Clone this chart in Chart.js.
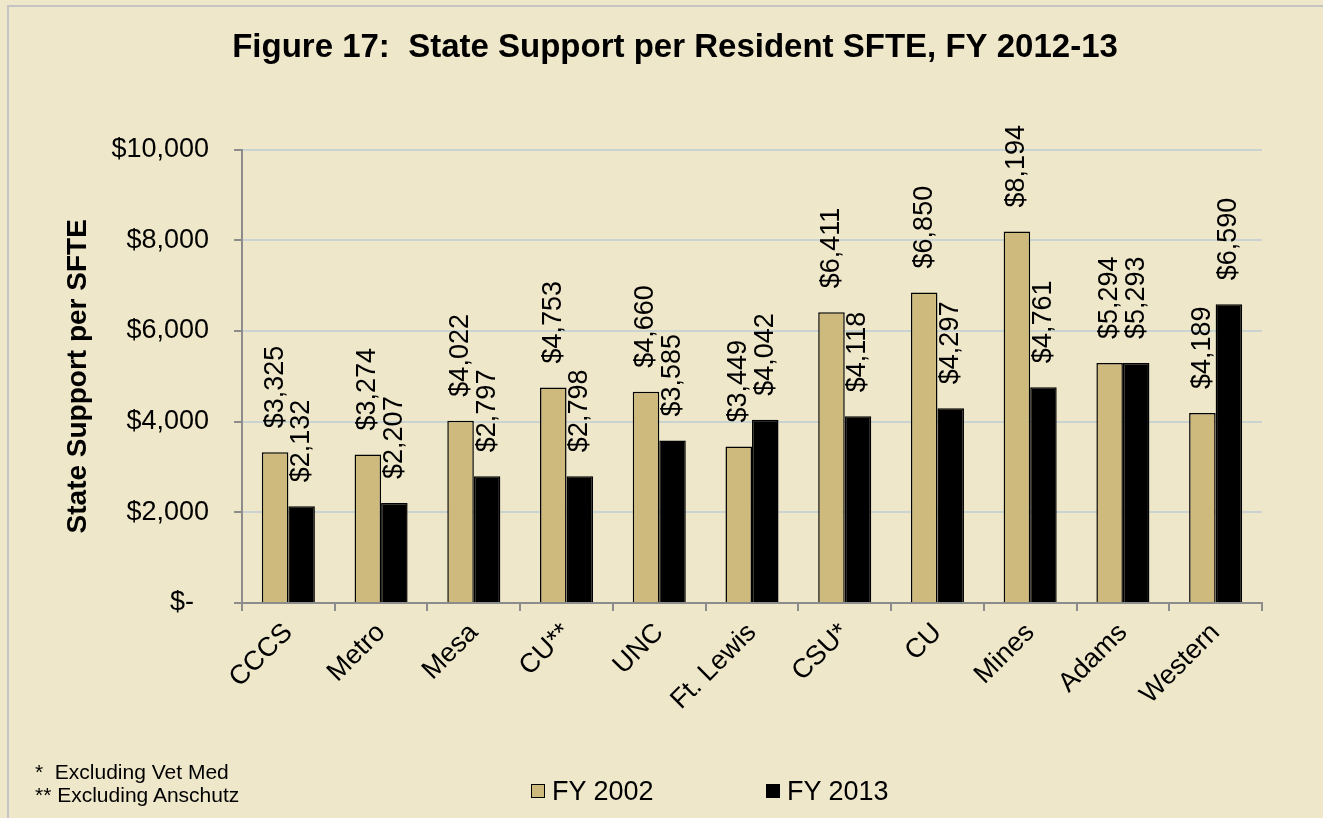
<!DOCTYPE html>
<html>
<head>
<meta charset="utf-8">
<script src="https://cdn.jsdelivr.net/npm/chart.js@4.4.1/dist/chart.umd.min.js"></script>
<style>
  html, body { margin: 0; padding: 0; background: #eee7c9; overflow: hidden; }
  #frame { position: absolute; left: 7px; top: 5px; width: 1340px; height: 840px;
           border: 2px solid #c4c4c4; box-sizing: border-box; }
  #wrap { position: absolute; left: 0; top: 0; width: 1323px; height: 818px; }
  .note { position: absolute; font-family: 'Liberation Sans', Arial, sans-serif; font-size: 21px; color: #000; white-space: pre; }
  .leg { position: absolute; font-family: 'Liberation Sans', Arial, sans-serif; font-size: 27px; color: #000; white-space: pre; line-height: 30px; }
  .box { position: absolute; width: 12px; height: 12px; border: 1.5px solid #000; }
</style>
</head>
<body>
<div id="frame"></div>
<div id="wrap"><canvas id="myChart" width="1323" height="818"></canvas></div>
<div class="note" style="left:35px; top:760px;">*  Excluding Vet Med</div>
<div class="note" style="left:35px; top:783px;">** Excluding Anschutz</div>
<div id="legend"></div>
<script>
// values
const schools = ['CCCS', 'Metro', 'Mesa', 'CU**', 'UNC', 'Ft. Lewis', 'CSU*', 'CU', 'Mines', 'Adams', 'Western'];
const fy2002 = [3325, 3274, 4022, 4753, 4660, 3449, 6411, 6850, 8194, 5294, 4189];
const fy2013 = [2132, 2207, 2797, 2798, 3585, 4042, 4118, 4297, 4761, 5293, 6590];
const seriesNames = ['FY 2002', 'FY 2013'];
const yTicks = [0, 2000, 4000, 6000, 8000, 10000];

const tan = '#cfba7e';
const gridColor = '#c9d3d1';
const axisColor = '#8c8c8c';
const fontFamily = "'Liberation Sans', Arial, sans-serif";

Chart.defaults.font.family = fontFamily;
Chart.defaults.color = '#000';

function money(v) {
  if (v === 0) return '$-  ';
  return '$' + v.toLocaleString('en-US');
}

// rotated value labels above each bar
const barLabels = {
  id: 'barLabels',
  afterDatasetsDraw(chart) {
    const ctx = chart.ctx;
    ctx.save();
    ctx.font = '27px ' + fontFamily;
    ctx.fillStyle = '#000';
    ctx.textAlign = 'left';
    ctx.textBaseline = 'middle';
    chart.data.datasets.forEach(function (ds, i) {
      const meta = chart.getDatasetMeta(i);
      meta.data.forEach(function (bar, j) {
        ctx.save();
        ctx.translate(bar.x, bar.y - 24);
        ctx.rotate(-Math.PI / 2);
        ctx.fillText(money(ds.data[j]), 0, 0);
        ctx.restore();
      });
    });
    ctx.restore();
  }
};

let ctx = document.getElementById('myChart');

new Chart(ctx, {
  type: 'bar',
  data: {
    labels: schools,
    datasets: [{
      label: seriesNames[0],
      data: fy2002,
      backgroundColor: tan,
      borderColor: '#000',
      borderWidth: 1.5
    }, {
      label: seriesNames[1],
      data: fy2013,
      backgroundColor: '#000',
      borderColor: '#000',
      borderWidth: 1.5
    }]
  },
  options: {
    responsive: false,
    animation: false,
    categoryPercentage: 0.572,
    barPercentage: 1,
    layout: { padding: { left: 88, right: 61, top: 0, bottom: 0 } },
    plugins: {
      legend: { display: false },
      tooltip: { enabled: false },
      title: {
        display: true,
        text: 'Figure 17:  State Support per Resident SFTE, FY 2012-13',
        font: { size: 33, weight: 'bold' },
        color: '#000',
        padding: { top: 28, bottom: 82 }
      }
    },
    scales: {
      x: {
        grid: { drawOnChartArea: false, color: axisColor, tickLength: 8, lineWidth: 2 },
        border: { color: axisColor, width: 2 },
        ticks: { font: { size: 27 }, maxRotation: 45, minRotation: 45, padding: 6, autoSkip: false },
        afterFit: function (scale) { scale.height = 215; }
      },
      y: {
        min: 0,
        max: 10000,
        afterBuildTicks: function (scale) {
          scale.ticks = yTicks.map(function (v) { return { value: v }; });
        },
        grid: { color: gridColor, lineWidth: 2, tickColor: axisColor, tickLength: 8 },
        border: { color: axisColor, width: 2 },
        ticks: { font: { size: 27 }, padding: 25, callback: function (v) { return money(v); } },
        title: {
          display: true,
          text: 'State Support per SFTE',
          font: { size: 28, weight: 'bold' },
          padding: { top: -27, bottom: 0 }
        },
        afterFit: function (scale) { scale.width = 154; }
      }
    }
  },
  plugins: [barLabels]
});

// legend below the plot
const legendPos = [531, 766];
const legendColors = [tan, '#000'];
const legendEl = document.getElementById('legend');
seriesNames.forEach(function (name, i) {
  const b = document.createElement('div');
  b.className = 'box';
  b.style.left = legendPos[i] + 'px';
  b.style.top = '784px';
  b.style.background = legendColors[i];
  legendEl.appendChild(b);
  const t = document.createElement('div');
  t.className = 'leg';
  t.style.left = (legendPos[i] + 21) + 'px';
  t.style.top = '776px';
  t.textContent = name;
  legendEl.appendChild(t);
});
</script>
</body>
</html>
